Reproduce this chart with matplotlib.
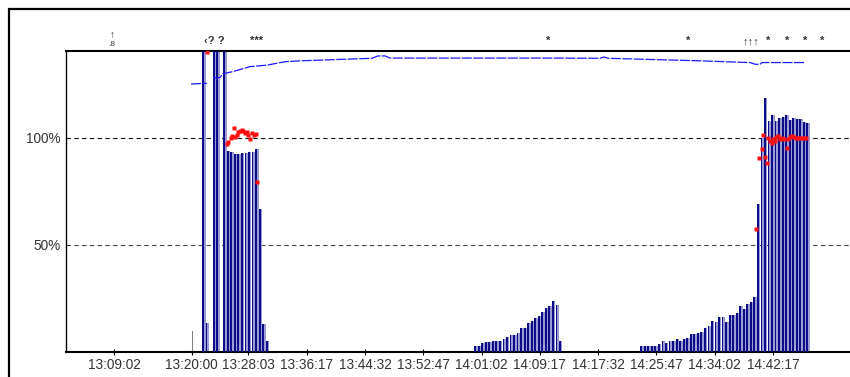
import matplotlib
matplotlib.use("Agg")
import matplotlib.pyplot as plt
import numpy as np
from matplotlib.transforms import blended_transform_factory
from matplotlib.patches import Rectangle

plt.rcParams['font.family'] = ['Liberation Sans', 'DejaVu Sans']


def hms_to_min(s):
    """minutes after 13:00:00"""
    h, m, sec = (int(p) for p in s.split(':'))
    return (h - 13) * 60 + m + sec / 60.0


# ---------------- data ----------------
tick_labels = ["13:09:02", "13:20:00", "13:28:03", "13:36:17", "13:44:32", "13:52:47",
               "14:01:02", "14:09:17", "14:17:32", "14:25:47", "14:34:02", "14:42:17"]
y_ticks = [50, 100]
y_tick_labels = ["50%", "100%"]

bar_step_min = 0.5  # 30 s per bar

seg1_start = "13:20:00"
seg1_values = [0, 0, 0, 160, 13.5, 0, 160, 160, 0, 160, 94, 93.5, 92.5, 92.5, 93, 93,
               93.5, 93.5, 95, 67, 13, 5]

seg2_start = "14:00:00"
seg2_values = [3, 3, 4.4, 4.5, 4.5, 5, 5, 5, 6, 7, 8, 8, 9, 11, 11, 13.5, 14.5, 16, 17,
               18.5, 20.5, 21.5, 24, 22, 5]

seg3_start = "14:23:30"
seg3_values = [2.9, 2.8, 2.8, 2.9, 2.9, 3.8, 5.0, 4.3, 5.0, 5.0,
               6.0, 5.2, 6.0, 6.5, 8.3, 8.3, 9.0, 9.5, 11.0, 12.0,
               14.5, 14.0, 16.5, 16.5, 14.0, 17.5, 17.5, 18.0, 21.5, 20.0,
               22.5, 23.5, 25.5, 69.0, 100.0, 118.5, 108.0, 110.5, 108.0, 109.5,
               110.0, 110.7, 108.5, 109.5, 109.0, 109.0, 107.6, 107.0]

gray_bar_times = ["13:20:00"]
gray_bar_values = [10]

line_minutes = [19.93, 22.19, np.nan, 23.04, 24.03, 24.45, 25.87, 28.27, 30.68, 33.23,
                35.35, 39.59, 43.84, 45.54, 46.38, 47.37, 48.08, 56.57, 70.72, 77.79,
                78.36, 78.93, 91.94, 99.02, 99.74, 100.43, 100.71, 106.8]
line_values = [125.2, 125.5, np.nan, 127.9, 128.2, 130.0, 131.0, 133.3, 134.0, 135.6,
               136.0, 136.5, 137.0, 137.2, 138.3, 138.3, 137.3, 137.3, 137.3, 137.2,
               137.8, 137.2, 136.0, 135.2, 134.4, 134.4, 135.2, 135.2]

red_minutes = [22.15, 25.06, 25.20, 25.54, 25.69, 26.01, 26.15, 26.39, 26.62, 26.86,
               27.10, 27.33, 27.57, 27.81, 28.03, 28.27, 28.51, 28.84, 29.12, 29.31,
               99.87, 100.29, 100.64, 100.90, 101.14, 101.38, 101.56, 101.85, 102.06,
               102.27, 102.48, 102.70, 102.98, 103.26, 103.55, 103.83, 104.21, 104.39,
               104.68, 104.96, 105.24, 105.52, 105.81, 106.09, 106.37, 106.66, 106.94]
red_values = [140.0, 97.2, 98.3, 99.9, 101.1, 104.5, 100.6, 101.4, 102.7, 103.3,
              103.7, 103.3, 102.5, 102.7, 101.4, 99.4, 102.2, 101.4, 101.7, 79.3,
              57.5, 90.5, 94.7, 101.4, 91.3, 88.5, 100.0, 98.5, 97.5,
              99.5, 98.5, 100.5, 101.0, 99.5, 100.0, 99.5, 95.5, 99.5,
              100.5, 101.0, 100.5, 100.0, 99.8, 99.8, 99.8, 99.8, 99.8]

annot_minutes = [8.75, 23.18, 29.27, 70.44, 90.25, 99.15, 101.56, 104.25, 106.8, 109.2]
annot_texts = ["↑", "‹? ?", "***", "*", "*", "↑↑↑", "*", "*", "*", "*"]

# ---------------- figure ----------------
W, H = 850, 377
fig = plt.figure(figsize=(W / 100, H / 100), dpi=100)
fig.patch.set_facecolor('white')

# outer frame
fig.add_artist(Rectangle((9 / W, -0.1), 1.2, (H - 9) / H + 0.1, transform=fig.transFigure,
                         fill=False, edgecolor='black', linewidth=1.6))

ax = fig.add_axes([66 / W, 25 / H, 1 - 66 / W, (352 - 51) / H])
ax.set_xlim(2.242, 113.16)
ax.set_ylim(0, 140.6)

navy = '#0c0c88'
lav = '#9c9cd4'


def draw_segment(start, values):
    t0 = hms_to_min(start)
    times = [t0 + i * bar_step_min for i in range(len(values))]
    ax.bar(times, values, width=0.48, align='edge', color=lav, linewidth=0, zorder=2)
    ax.bar(times, values, width=0.26, align='edge', color=navy, linewidth=0, zorder=3)


for st, vals in [(seg1_start, seg1_values), (seg2_start, seg2_values),
                 (seg3_start, seg3_values)]:
    draw_segment(st, vals)

ax.bar([hms_to_min(t) for t in gray_bar_times], gray_bar_values, width=0.14,
       align='edge', color='#808080', linewidth=0, zorder=2)

# grid lines
ax.axhline(100, color='#111111', lw=0.8, ls=(0, (4, 3)), zorder=1)
ax.axhline(50, color='#444444', lw=0.8, ls=(0, (4, 3)), zorder=1)

ax.plot(line_minutes, line_values, color='#1a1aff', lw=0.9, ls=(0, (8, 1.2)), zorder=4)
ax.plot(red_minutes, red_values, ls='none', marker='s', ms=2.2, mfc='#ff1010',
        mec='none', zorder=5)

# ticks
ax.set_xticks([hms_to_min(t) for t in tick_labels])
ax.set_xticklabels(tick_labels, fontsize=9.8, color='#333333')
ax.tick_params(axis='x', direction='inout', length=4, width=0.8, pad=2.5)
ax.set_yticks(y_ticks)
ax.set_yticklabels(y_tick_labels, fontsize=9.8, color='#333333')
ax.tick_params(axis='y', length=0, pad=4)

ax.spines['right'].set_visible(False)
ax.spines['top'].set_linewidth(1.5)
ax.spines['bottom'].set_linewidth(1.5)
ax.spines['left'].set_linewidth(1.0)

# top annotations
tr = blended_transform_factory(ax.transData, fig.transFigure)
ax.text(annot_minutes[0], (H - 35) / H, annot_texts[0], transform=tr, ha='center',
        va='center', fontsize=7, fontweight='bold', color='#333333')
ax.text(annot_minutes[0], (H - 44) / H, ".8", transform=tr, ha='center', va='center',
        fontsize=6, color='#333333')
for m, txt in zip(annot_minutes[1:], annot_texts[1:]):
    ax.text(m, (H - 41) / H, txt, transform=tr, ha='center', va='center',
            fontsize=8, fontweight='bold', color='#333333', clip_on=False)

fig.savefig("out.png", dpi=100, facecolor='white')
